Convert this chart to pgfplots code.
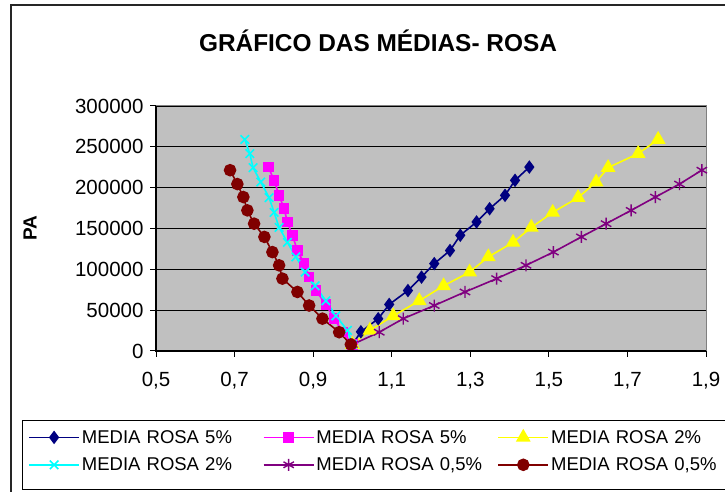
\documentclass[border=0pt]{standalone}
\usepackage{fontspec}
\setmainfont{Liberation Sans}
\usepackage{pgfplots}
\pgfplotsset{compat=1.18}
\definecolor{cnavy}{RGB}{0,0,128}
\definecolor{cmag}{RGB}{255,0,255}
\definecolor{cyel}{RGB}{255,255,0}
\definecolor{ccya}{RGB}{0,255,255}
\definecolor{cpur}{RGB}{128,0,128}
\definecolor{cbro}{RGB}{128,0,0}
\definecolor{bggray}{RGB}{192,192,192}
\begin{document}
\begin{tikzpicture}
\useasboundingbox (0pt,0pt) rectangle (725pt,492pt);
\fill[white] (0pt,0pt) rectangle (725pt,492pt);
\draw[line width=1.2pt, black!85] (11pt,-5pt) -- (11pt,487pt) -- (740pt,487pt);
\draw[line width=1pt, black] (22pt,2pt) rectangle (740pt,71pt);
\node[font=\bfseries\fontsize{24.4}{28}\selectfont] at (378pt,451pt) {GRÁFICO DAS MÉDIAS- ROSA};
\begin{axis}[
  at={(156pt,141pt)}, anchor=south west,
  scale only axis, width=550pt, height=245pt,
  xmin=0.5, xmax=1.9, ymin=0, ymax=300000,
  xtick={0.5,0.7,0.9,1.1,1.3,1.5,1.7,1.9},
  xticklabels={{0,5},{0,7},{0,9},{1,1},{1,3},{1,5},{1,7},{1,9}},
  ytick={0,50000,100000,150000,200000,250000,300000},
  yticklabels={0,50000,100000,150000,200000,250000,300000},
  scaled y ticks=false,
  axis background/.style={fill=bggray},
  ymajorgrids, grid style={black, line width=0.9pt},
  axis line style={gray, line width=1pt},
  tick align=outside, major tick length=6pt,
  tick style={black, line width=1pt},
  xtick pos=bottom, ytick pos=left,
  xticklabel style={font=\fontsize{20.5}{24}\selectfont, yshift=-12pt},
  yticklabel style={font=\fontsize{20.5}{24}\selectfont, xshift=-3pt},
  ylabel={PA},
  ylabel style={at={(axis description cs:-0.229,0.5)}, anchor=center, font=\bfseries\fontsize{19}{22}\selectfont},
  clip=false,
  legend columns=3,
  legend image code/.code={\draw[mark repeat=2,mark phase=2,#1] plot coordinates {(0pt,0pt) (25pt,0pt) (50pt,0pt)};},
  legend style={draw=none, fill=none, at={(axis description cs:-0.238,-0.306)}, anchor=north west,
    font=\fontsize{18.5}{22}\selectfont, row sep=9pt,
    /tikz/every even column/.append style={text width=179pt}},
  legend cell align=left,
  extra description/.code={\draw[black, line width=1.2pt] (rel axis cs:0,1) -- (rel axis cs:0,0) -- (rel axis cs:1,0);},
]
\addplot[cnavy, line width=1.6pt, mark=diamond*, mark size=5.5pt, mark options={solid, fill=cnavy}] coordinates {
(1.0,8000) (1.0215,23500) (1.0656,39500) (1.0936,57000) (1.1413,74000) (1.1759,90500) (1.2083,107000) (1.2483,123000) (1.2745,141700) (1.3160,158000) (1.3492,174200) (1.3884,190600) (1.4139,209000) (1.4503,225200)};
\addlegendentry{MEDIA ROSA 5\%}
\addplot[cmag, line width=1.6pt, mark=square*, mark size=4.5pt, mark options={solid, fill=cmag}] coordinates {
(1.0,8000) (0.975,23500) (0.9535,39500) (0.9324,57000) (0.9069,74000) (0.8898,90500) (0.8771,107000) (0.8600,123000) (0.8473,141700) (0.8345,158000) (0.8261,174200) (0.8134,190600) (0.8006,209000) (0.7861,225200)};
\addlegendentry{MEDIA ROSA 5\%}
\addplot[cyel, line width=1.6pt, mark=triangle*, mark size=7pt, mark options={solid, fill=cyel}] coordinates {
(1.0,8000) (1.0445,25300) (1.1038,43000) (1.1701,61500) (1.2320,79800) (1.2982,96600) (1.3459,115200) (1.4088,133000) (1.4554,151300) (1.5097,169700) (1.5744,187800) (1.6202,206900) (1.6508,224500) (1.7273,241700) (1.7782,259000)};
\addlegendentry{MEDIA ROSA 2\%}
\addplot[ccya, line width=1.6pt, mark=x, mark size=6pt, mark options={solid, line width=1.6pt}] coordinates {
(1.0,8000) (0.9873,25300) (0.9578,43000) (0.9324,61500) (0.9051,79800) (0.8796,96600) (0.8559,115200) (0.8345,133000) (0.8134,151300) (0.8006,169700) (0.7879,187800) (0.7667,206900) (0.7471,224500) (0.7387,241700) (0.7260,259000)};
\addlegendentry{MEDIA ROSA 2\%}
\addplot[cpur, line width=1.6pt, mark=asterisk, mark size=6pt, mark options={solid, line width=1.4pt}] coordinates {
(1.0,8000) (1.0682,23000) (1.1293,39600) (1.2083,55700) (1.2865,72300) (1.3670,88600) (1.4419,104900) (1.5115,121100) (1.5828,139700) (1.6457,155900) (1.7094,172200) (1.7713,188500) (1.8325,204400) (1.8893,221400)};
\addlegendentry{MEDIA ROSA 0,5\%}
\addplot[cbro, line width=1.6pt, mark=*, mark size=5.5pt, mark options={solid, fill=cbro}] coordinates {
(0.996,8000) (0.9662,23000) (0.9237,39600) (0.8898,55700) (0.8600,72300) (0.8218,88600) (0.8134,104900) (0.7963,121100) (0.7759,139700) (0.7497,155900) (0.7326,172200) (0.7224,188500) (0.7071,204400) (0.6885,221400)};
\addlegendentry{MEDIA ROSA 0,5\%}
\end{axis}
\end{tikzpicture}
\end{document}
